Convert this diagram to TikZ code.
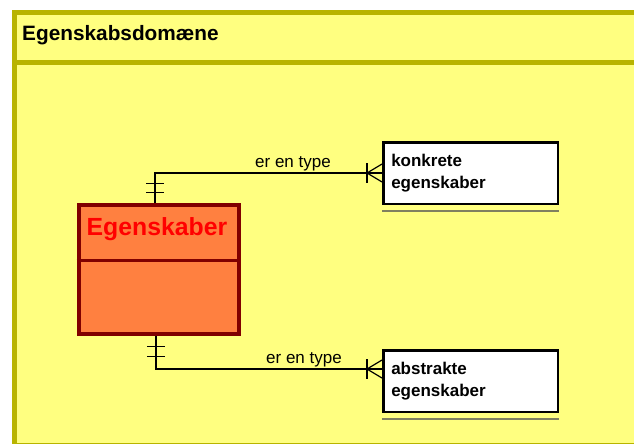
\documentclass[tikz,border=0pt]{standalone}
\usepackage{fontspec}
\setmainfont{Liberation Sans}
\usetikzlibrary{calc}
\definecolor{bgyellow}{HTML}{FFFF80}
\definecolor{frameol}{HTML}{B8B400}
\definecolor{entfill}{HTML}{FF8040}
\definecolor{entdraw}{HTML}{800000}
\definecolor{shadowc}{HTML}{808060}
\tikzset{
  framebox/.style={draw=frameol, fill=bgyellow, line width=4.8},
  frameline/.style={draw=frameol, line width=4.8},
  entity/.style={draw=entdraw, fill=entfill, line width=4, inner sep=0},
  entline/.style={draw=entdraw, line width=3.5},
  subent/.style={draw=black, fill=white, line width=2.5, minimum width=174.5, minimum height=61.5,
    text width=158.5, inner xsep=8, align=left, font=\bfseries\fontsize{17}{22}\selectfont},
  conn/.style={draw=black, line width=1.2},
  lbl/.style={font=\fontsize{17}{20}\selectfont, inner sep=0},
  shadowline/.style={draw=shadowc, line width=2}
}
\begin{document}
\begin{tikzpicture}[x=1pt,y=-1pt]
\useasboundingbox (0,0) rectangle (634,444);
\clip (0,0) rectangle (634,444);
\fill[white] (0,0) rectangle (634,444);
\draw[framebox] (14.2,12.5) rectangle (660,445.5);
\draw[frameline] (14.2,62.5) -- (660,62.5);
\node[anchor=base west, inner sep=0, font=\bfseries\fontsize{20.8}{24}\selectfont] (title) at (22,40.7) {Egenskabsdomæne};
% main entity
\node[entity, minimum width=160, minimum height=128.4] (E) at (158.7,269.5) {};
\node[anchor=base, inner sep=0, text=red, font=\bfseries\fontsize{24.8}{28}\selectfont] (Et) at (157,235.5) {Egenskaber};
\draw[entline] (E.west |- 0,260.5) -- (E.east |- 0,260.5);
% sub entities
\node[subent] (K) at (470.5,173) {konkrete\\egenskaber};
\node[subent] (A) at (470.5,381) {abstrakte\\egenskaber};
\draw[shadowline] ($(K.south west)+(0,6)$) -- ($(K.south east)+(0,6)$);
\draw[shadowline] ($(A.south west)+(0,6)$) -- ($(A.south east)+(0,6)$);
% top connector
\draw[conn] ($(E.north)+(-3.7,0)$) |- (K.west);
\draw[conn] ($(E.north)+(-12.7,-11)$) -- ++(18,0);
\draw[conn] ($(E.north)+(-12.7,-20)$) -- ++(18,0);
\draw[conn] ($(K.west)+(-15,-10)$) -- ++(0,20);
\draw[conn] ($(K.west)+(0,-9)$) -- ($(K.west)+(-15,0)$) -- ($(K.west)+(0,9)$);
\node[lbl, anchor=base] (L1) at (293,167) {er en type};
% bottom connector
\coordinate (Aend) at ($(A.west)+(0,-12)$);
\draw[conn] ($(E.south)+(-2.7,0)$) |- (Aend);
\draw[conn] ($(E.south)+(-11.7,11)$) -- ++(18,0);
\draw[conn] ($(E.south)+(-11.7,21)$) -- ++(18,0);
\draw[conn] ($(Aend)+(-15,-10)$) -- ++(0,20);
\draw[conn] ($(Aend)+(0,-9)$) -- ($(Aend)+(-15,0)$) -- ($(Aend)+(0,9)$);
\node[lbl, anchor=base] (L2) at (304,363) {er en type};
\end{tikzpicture}
\end{document}
